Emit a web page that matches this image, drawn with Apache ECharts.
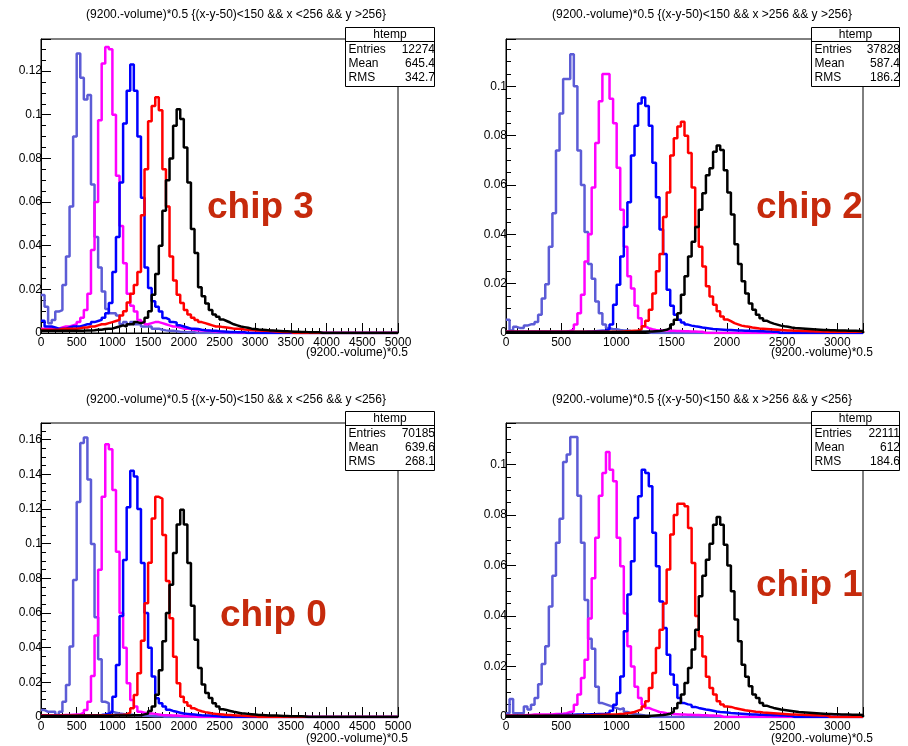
<!DOCTYPE html>
<html><head><meta charset="utf-8">
<script src="https://cdn.jsdelivr.net/npm/echarts@6/dist/echarts.min.js"></script>
<style>html,body{margin:0;padding:0;background:#fff}#c{width:908px;height:746px}</style>
</head><body><div id="c"></div>
<script>
// ---------- DATA (normalised bin contents, 100 bins per histogram) ----------
const BINS = 100;
const seriesNames = ['lavender', 'magenta', 'blue', 'red', 'black'];

// chip 3 (top-left), x range 0..5000
const c3Lav = [0.0174,0.012,0.0045,0.006,0.0098,0.0105,0.022,0.035,0.058,0.090,
 0.128,0.117,0.107,0.109,0.068,0.044,0.030,0.019,0.011,0.009,
 0.009,0.008,0.004,0.005,0.004,0.005,0.004,0.004,0.003,0.003,
 0.003,0.002,0.002,0.0015,0.0012,0.001,0.001,0.0008,0.0006,0.0005,
 0.0004,0.0004,0.0003];
const c3Mag = [0.002,0.002,0.0025,0.002,0.002,0.0025,0.003,0.003,0.0035,0.004,
 0.005,0.007,0.0105,0.018,0.038,0.060,0.0975,0.1235,0.131,0.130,
 0.100,0.072,0.049,0.032,0.018,0.0125,0.0098,0.006,0.005,0.004,
 0.0045,0.005,0.005,0.0045,0.004,0.0035,0.003,0.003,0.0025,0.002,
 0.002,0.0018,0.0015,0.0013,0.0012,0.001,0.001,0.0008,0.0007,0.0006,
 0.0005,0.0005,0.0004,0.0004,0.0003];
const c3Blu = [0.0056,0.003,0.003,0.0025,0.002,0.002,0.002,0.0025,0.003,0.003,
 0.003,0.0035,0.004,0.004,0.005,0.0055,0.006,0.007,0.009,0.0137,
 0.028,0.044,0.069,0.096,0.111,0.123,0.111,0.090,0.062,0.030,
 0.0206,0.0145,0.012,0.0099,0.0069,0.0061,0.005,0.0048,0.0035,0.003,
 0.0025,0.002,0.002,0.0018,0.0015,0.0013,0.0012,0.001,0.001,0.0008,
 0.0007,0.0006,0.0005,0.0005,0.0004,0.0004,0.0003];
const c3Red = [0.0015,0.0015,0.0015,0.0015,0.0015,0.0018,0.002,0.002,0.002,0.002,
 0.0022,0.0025,0.0025,0.003,0.003,0.0035,0.004,0.004,0.0045,0.005,
 0.0055,0.006,0.008,0.010,0.014,0.018,0.022,0.028,0.054,0.075,
 0.097,0.104,0.108,0.102,0.075,0.058,0.035,0.024,0.0175,0.0137,
 0.0105,0.0085,0.007,0.006,0.005,0.0045,0.004,0.0035,0.003,0.003,
 0.0027,0.0025,0.0023,0.002,0.002,0.0018,0.0016,0.0015,0.0014,0.0012,
 0.0011,0.001,0.001,0.0009,0.0008,0.0007,0.0006,0.0005,0.0005,0.0004];
const c3Blk = [0.001,0.001,0.001,0.001,0.001,0.001,0.001,0.001,0.001,0.001,
 0.001,0.001,0.0012,0.0012,0.0013,0.0015,0.0015,0.0018,0.002,0.002,
 0.0025,0.003,0.0035,0.003,0.004,0.004,0.005,0.0045,0.005,0.007,
 0.010,0.0175,0.027,0.040,0.056,0.070,0.080,0.095,0.1025,0.098,
 0.085,0.069,0.0476,0.0366,0.021,0.0168,0.0135,0.0105,0.0085,0.0075,
 0.0062,0.0055,0.0048,0.004,0.0035,0.003,0.0027,0.0024,0.002,0.0018,
 0.0016,0.0015,0.0014,0.0012,0.0011,0.001,0.0009,0.0008,0.0008,0.0007,
 0.0006,0.0006,0.0005,0.0005,0.0004,0.0004,0.0003,0.0003];

// chip 2 (top-right), x range 0..3233
const c2Lav = [0.0054,0.001,0.0025,0.002,0.002,0.003,0.0035,0.0035,0.0045,0.0074,
 0.014,0.0198,0.035,0.0486,0.074,0.089,0.103,0.103,0.113,0.100,
 0.074,0.060,0.041,0.028,0.022,0.0128,0.008,0.0034,0.002,0.0015,
 0.0015,0.0012,0.001,0.001,0.0008,0.0007,0.0006,0.0005,0.0005,0.0004];
const c2Mag = [0.0005,0.0005,0.0005,0.0005,0.0005,0.0005,0.0005,0.0005,0.0005,0.0005,
 0.0005,0.0005,0.0005,0.0005,0.0005,0.0005,0.0006,0.0008,0.0015,0.0034,
 0.008,0.0155,0.029,0.040,0.059,0.077,0.094,0.105,0.105,0.095,
 0.085,0.067,0.050,0.035,0.023,0.018,0.011,0.006,0.0027,0.002,
 0.0015,0.0012,0.001,0.001,0.001,0.0009,0.0009,0.0008,0.0008,0.0007,
 0.0007,0.0006,0.0006,0.0005,0.0005];
const c2Blu = [0.0005,0.0005,0.0005,0.0005,0.0005,0.0005,0.0005,0.0005,0.0005,0.0005,
 0.0005,0.0005,0.0005,0.0005,0.0005,0.0005,0.0005,0.0005,0.0005,0.0005,
 0.0005,0.0005,0.0006,0.0006,0.0007,0.0008,0.0009,0.001,0.0015,0.0034,
 0.0115,0.0196,0.031,0.043,0.053,0.072,0.084,0.093,0.0955,0.092,
 0.084,0.069,0.055,0.042,0.032,0.0175,0.011,0.0074,0.0054,0.0043,
 0.0034,0.003,0.0027,0.0025,0.0022,0.002,0.0018,0.0016,0.0015,0.0014,
 0.0013,0.0012,0.0012,0.0011,0.001,0.001,0.0009,0.0009,0.0008,0.0008,
 0.0007,0.0007,0.0006,0.0006,0.0005,0.0005];
const c2Red = [0.0005,0.0005,0.0005,0.0005,0.0005,0.0005,0.0005,0.0005,0.0005,0.0005,
 0.0005,0.0005,0.0005,0.0005,0.0005,0.0005,0.0005,0.0005,0.0005,0.0005,
 0.0005,0.0005,0.0005,0.0005,0.0005,0.0005,0.0005,0.0005,0.0005,0.0005,
 0.0005,0.0005,0.0006,0.0007,0.0008,0.0009,0.001,0.0015,0.0027,0.005,
 0.0094,0.016,0.025,0.032,0.047,0.057,0.072,0.079,0.0837,0.0857,
 0.080,0.073,0.059,0.043,0.035,0.027,0.019,0.0148,0.0115,0.0088,
 0.0067,0.0055,0.0048,0.004,0.0035,0.003,0.0027,0.0025,0.0022,0.002,
 0.0018,0.0017,0.0016,0.0015,0.0014,0.0013,0.0012,0.0011,0.001,0.001,
 0.0009,0.0009,0.0008,0.0008,0.0007,0.0007,0.0006,0.0006,0.0006,0.0005,
 0.0005,0.0005,0.0005,0.0005,0.0005,0.0005,0.0005,0.0005,0.0005,0.0005];
const c2Blk = [0.0004,0.0004,0.0004,0.0004,0.0004,0.0004,0.0004,0.0004,0.0004,0.0004,
 0.0004,0.0004,0.0004,0.0004,0.0004,0.0004,0.0004,0.0004,0.0004,0.0004,
 0.0004,0.0004,0.0004,0.0004,0.0004,0.0004,0.0004,0.0004,0.0004,0.0004,
 0.0004,0.0004,0.0004,0.0004,0.0004,0.0004,0.0005,0.0005,0.0005,0.0006,
 0.0006,0.0007,0.0008,0.001,0.0013,0.002,0.0034,0.0054,0.008,0.0155,
 0.023,0.031,0.037,0.043,0.050,0.0567,0.064,0.0668,0.0735,0.076,
 0.0742,0.066,0.057,0.048,0.036,0.028,0.021,0.016,0.012,0.0094,
 0.0074,0.006,0.005,0.0043,0.0038,0.0034,0.003,0.0027,0.0025,0.0022,
 0.002,0.0019,0.0018,0.0017,0.0016,0.0015,0.0014,0.0013,0.0012,0.0012,
 0.0011,0.0011,0.001,0.001,0.001,0.0009,0.0009,0.0009,0.0008,0.0008];

// chip 0 (bottom-left), x range 0..5000
const c0Lav = [0.004,0.003,0.003,0.003,0.0012,0.003,0.0088,0.0185,0.0406,0.079,
 0.124,0.158,0.1613,0.137,0.0998,0.0575,0.0333,0.0088,0.008,0.003,
 0.0025,0.002,0.0018,0.0015,0.0015,0.0012,0.001,0.001,0.0008,0.0007,
 0.0006,0.0005,0.0005,0.0004];
const c0Mag = [0.001,0.001,0.001,0.001,0.001,0.001,0.0012,0.0012,0.0013,0.0014,
 0.0015,0.0025,0.004,0.0088,0.0237,0.047,0.085,0.127,0.1573,0.1544,
 0.131,0.0954,0.060,0.040,0.0194,0.0098,0.006,0.003,0.0025,0.002,
 0.002,0.0018,0.0015,0.0012,0.001,0.001,0.0009,0.0008,0.0007,0.0006,
 0.0005,0.0005,0.0004];
const c0Blu = [0.0008,0.0008,0.0008,0.0008,0.0008,0.0008,0.0008,0.0008,0.0008,0.0008,
 0.0008,0.0008,0.0009,0.001,0.001,0.001,0.0012,0.0015,0.002,0.003,
 0.0117,0.030,0.0583,0.0906,0.121,0.142,0.1387,0.120,0.0888,0.060,
 0.040,0.0233,0.0108,0.0079,0.006,0.0042,0.0035,0.003,0.0025,0.002,
 0.0018,0.0016,0.0014,0.0012,0.001,0.0009,0.0008,0.0007,0.0006,0.0005];
const c0Red = [0.0008,0.0008,0.0008,0.0008,0.0008,0.0008,0.0008,0.0008,0.0008,0.0008,
 0.0008,0.0008,0.0008,0.0009,0.0009,0.0009,0.001,0.001,0.001,0.001,
 0.001,0.0012,0.0013,0.0015,0.0025,0.005,0.0127,0.0252,0.044,0.0656,
 0.089,0.1145,0.127,0.126,0.105,0.0784,0.057,0.0348,0.0194,0.0117,
 0.0085,0.0065,0.005,0.004,0.0033,0.0028,0.0024,0.002,0.0018,0.0016,
 0.0014,0.0012,0.0011,0.001,0.0009,0.0008,0.0007,0.0006,0.0005,0.0005];
const c0Blk = [0.0006,0.0006,0.0006,0.0006,0.0006,0.0006,0.0006,0.0006,0.0006,0.0006,
 0.0007,0.0007,0.0007,0.0007,0.0007,0.0007,0.0007,0.0007,0.0007,0.0007,
 0.0008,0.0008,0.0008,0.0009,0.0009,0.001,0.001,0.001,0.0015,0.002,
 0.0035,0.006,0.0129,0.027,0.0437,0.060,0.0763,0.0946,0.111,0.1196,
 0.111,0.0888,0.0642,0.0446,0.0283,0.0187,0.0138,0.011,0.008,0.006,
 0.0045,0.004,0.0035,0.003,0.0026,0.0022,0.002,0.0018,0.0016,0.0014,
 0.0012,0.0011,0.001,0.0009,0.0008,0.0008,0.0007,0.0006,0.0006,0.0005,
 0.0005,0.0004,0.0004,0.0003];

// chip 1 (bottom-right), x range 0..3233
const c1Lav = [0.0015,0.0071,0.0015,0.0015,0.0015,0.0042,0.003,0.0049,0.0075,0.013,
 0.021,0.028,0.0438,0.056,0.069,0.0786,0.101,0.104,0.111,0.111,
 0.0877,0.069,0.0464,0.031,0.027,0.012,0.0055,0.005,0.0045,0.004,
 0.0035,0.003,0.0035,0.002,0.0015,0.0012,0.001,0.0008,0.0006,0.0005];
const c1Mag = [0.0005,0.0005,0.0005,0.0005,0.0005,0.0008,0.0008,0.001,0.001,0.001,
 0.001,0.001,0.001,0.0012,0.0012,0.0013,0.0015,0.002,0.0022,0.0049,
 0.0089,0.0155,0.0227,0.039,0.055,0.071,0.0877,0.0967,0.105,0.098,
 0.0934,0.071,0.0597,0.041,0.028,0.020,0.012,0.0075,0.0049,0.0036,
 0.003,0.0025,0.002,0.0018,0.0015,0.0013,0.0012,0.0011,0.001,0.001,
 0.0009,0.0009,0.0008,0.0008,0.0007,0.0007,0.0006,0.0006,0.0005,0.0005];
const c1Blu = [0.0005,0.0005,0.0005,0.0005,0.0005,0.0005,0.0005,0.0005,0.0005,0.0005,
 0.0006,0.0006,0.0007,0.0007,0.0008,0.0008,0.0008,0.0009,0.0009,0.001,
 0.001,0.001,0.001,0.0011,0.0011,0.0012,0.0012,0.0013,0.0015,0.0025,
 0.0049,0.0095,0.016,0.034,0.0485,0.0617,0.0789,0.0875,0.098,0.0967,
 0.0914,0.073,0.0597,0.0458,0.0353,0.0247,0.0168,0.0128,0.0075,0.0055,
 0.005,0.0048,0.004,0.0036,0.0033,0.003,0.0028,0.0025,0.0022,0.002,
 0.0019,0.0018,0.0016,0.0015,0.0014,0.0013,0.0012,0.0011,0.001,0.001,
 0.0009,0.0009,0.0008,0.0008,0.0007,0.0007,0.0006,0.0006,0.0005,0.0005];
const c1Red = [0.0005,0.0005,0.0005,0.0005,0.0005,0.0005,0.0005,0.0005,0.0005,0.0005,
 0.0005,0.0005,0.0005,0.0005,0.0005,0.0005,0.0005,0.0005,0.0005,0.0005,
 0.0006,0.0006,0.0007,0.0007,0.0008,0.0008,0.0009,0.0009,0.001,0.001,
 0.001,0.0012,0.0013,0.0015,0.0017,0.002,0.0025,0.003,0.0042,0.0062,
 0.0115,0.0174,0.0273,0.0346,0.045,0.0584,0.0723,0.080,0.0845,0.0845,
 0.0835,0.0749,0.061,0.040,0.032,0.024,0.0159,0.0115,0.0089,0.0062,
 0.005,0.0042,0.004,0.0036,0.0033,0.003,0.0027,0.0025,0.0023,0.0021,
 0.002,0.0018,0.0017,0.0016,0.0015,0.0014,0.0013,0.0012,0.0011,0.001,
 0.001,0.0009,0.0009,0.0008,0.0008,0.0007,0.0007,0.0006,0.0006,0.0006];
const c1Blk = [0.0004,0.0004,0.0004,0.0004,0.0004,0.0004,0.0004,0.0004,0.0004,0.0004,
 0.0004,0.0004,0.0004,0.0004,0.0004,0.0004,0.0004,0.0004,0.0004,0.0004,
 0.0004,0.0004,0.0004,0.0004,0.0004,0.0004,0.0004,0.0004,0.0004,0.0004,
 0.0004,0.0004,0.0004,0.0004,0.0004,0.0004,0.0004,0.0004,0.0004,0.0004,
 0.0005,0.0006,0.0007,0.0008,0.001,0.0013,0.002,0.0035,0.0055,0.0089,
 0.0135,0.0194,0.0267,0.0346,0.0478,0.056,0.0623,0.0687,0.0762,0.0793,
 0.0762,0.0683,0.060,0.0498,0.0386,0.030,0.0207,0.0159,0.0122,0.0089,
 0.0075,0.0055,0.0045,0.004,0.0036,0.0033,0.003,0.0028,0.0026,0.0024,
 0.0022,0.002,0.0019,0.0018,0.0017,0.0016,0.0015,0.0014,0.0013,0.0012,
 0.0012,0.0011,0.0011,0.001,0.001,0.001,0.0009,0.0009,0.0009,0.0008];

// texts
const titles = [
 '(9200.-volume)*0.5 {(x-y-50)<150 && x <256 && y >256}',
 '(9200.-volume)*0.5 {(x-y-50)<150 && x >256 && y >256}',
 '(9200.-volume)*0.5 {(x-y-50)<150 && x <256 && y <256}',
 '(9200.-volume)*0.5 {(x-y-50)<150 && x >256 && y <256}'
];
const chipLabels = ['chip 3', 'chip 2', 'chip 0', 'chip 1'];
const statNames = ['Entries', 'Mean', 'RMS'];
const statValues = [
 ['12274', '645.4', '342.7'],
 ['37828', '587.4', '186.2'],
 ['70185', '639.6', '268.1'],
 ['22111', '612', '184.6']
];
const xAxisTitle = '(9200.-volume)*0.5';
const xMaxes = [5000, 3233, 5000, 3233];
const yMaxes = [0.1347, 0.1192, 0.1696, 0.1165];
const panelData = [
 [c3Lav, c3Mag, c3Blu, c3Red, c3Blk],
 [c2Lav, c2Mag, c2Blu, c2Red, c2Blk],
 [c0Lav, c0Mag, c0Blu, c0Red, c0Blk],
 [c1Lav, c1Mag, c1Blu, c1Red, c1Blk]
];

// ---------- LAYOUT / STYLE ----------
const FONT = '"Liberation Sans", Arial, Helvetica, sans-serif';
const colors = ['#5c5cd6', '#ff00ff', '#0000ff', '#ff0000', '#000000'];
const chipColor = '#c62a0c';
const layout = [
 {left: 41, top: 39, titleX: 236, titleY: 15, boxX: 345, boxY: 27, boxW: 89, nameX: 408, nameY: 353, chipX: 207, chipY: 208},
 {left: 506, top: 39, titleX: 702, titleY: 15, boxX: 811, boxY: 27, boxW: 88, nameX: 873, nameY: 353, chipX: 756, chipY: 208},
 {left: 41, top: 423, titleX: 236, titleY: 400, boxX: 345, boxY: 411, boxW: 89, nameX: 408, nameY: 739, chipX: 220, chipY: 616},
 {left: 506, top: 423, titleX: 702, titleY: 400, boxX: 811, boxY: 411, boxW: 88, nameX: 873, nameY: 739, chipX: 756, chipY: 586}
];
const GW = 357, GH = 294;

function stepData(arr, xMax) {
  const w = xMax / BINS;
  const pts = [];
  for (let i = 0; i < BINS; i++) pts.push([i * w, i < arr.length ? arr[i] : 0]);
  pts.push([BINS * w, 0]);
  return pts;
}
function xFmt(v) { return Math.abs(v / 500 - Math.round(v / 500)) < 1e-6 ? String(Math.round(v)) : ''; }
function yFmt(v) { const r = v / 0.02; return Math.abs(r - Math.round(r)) < 1e-6 ? String(+v.toFixed(4)) : ''; }

const grid = [], xAxis = [], yAxis = [], series = [], graphic = [];
layout.forEach((L, k) => {
  grid.push({left: L.left, top: L.top, width: GW, height: GH, show: true, borderColor: '#000', borderWidth: 1,
    backgroundColor: 'transparent', containLabel: false, outerBoundsMode: 'none'});
  const tickStyle = {color: '#000', width: 1};
  const lbl = {fontSize: 12, fontFamily: FONT, color: '#000'};
  xAxis.push({gridIndex: k, type: 'value', position: 'bottom', min: 0, max: xMaxes[k], interval: 500,
    axisLine: {show: true, onZero: false, lineStyle: {color: '#000', width: 1}},
    axisTick: {show: true, inside: true, length: 10, lineStyle: tickStyle},
    axisLabel: Object.assign({margin: 4, formatter: xFmt, showMaxLabel: true}, lbl),
    splitLine: {show: false}});
  xAxis.push({gridIndex: k, type: 'value', position: 'bottom', min: 0, max: xMaxes[k], interval: 100,
    axisLine: {show: false}, axisTick: {show: true, inside: true, length: 5, lineStyle: tickStyle},
    axisLabel: {show: false}, splitLine: {show: false}});
  yAxis.push({gridIndex: k, type: 'value', position: 'left', min: 0, max: yMaxes[k], interval: 0.02,
    axisLine: {show: true, onZero: false, lineStyle: {color: '#000', width: 1}},
    axisTick: {show: true, inside: true, length: 10, lineStyle: tickStyle},
    axisLabel: Object.assign({margin: -1, formatter: yFmt}, lbl),
    splitLine: {show: false}});
  yAxis.push({gridIndex: k, type: 'value', position: 'left', min: 0, max: yMaxes[k], interval: 0.005,
    axisLine: {show: false}, axisTick: {show: true, inside: true, length: 5, lineStyle: tickStyle},
    axisLabel: {show: false}, splitLine: {show: false}});
  panelData[k].forEach((arr, s) => {
    series.push({type: 'line', name: seriesNames[s], xAxisIndex: 2 * k, yAxisIndex: 2 * k, step: 'end',
      symbol: 'none', showSymbol: false, silent: true, clip: true,
      lineStyle: {color: colors[s], width: 2.5}, data: stepData(arr, xMaxes[k])});
  });
  graphic.push({type: 'text', z: 100, style: {text: titles[k], x: L.titleX, y: L.titleY, textAlign: 'center',
    textVerticalAlign: 'middle', font: '12px ' + FONT, fill: '#000'}});
  graphic.push({type: 'text', z: 100, style: {text: xAxisTitle, x: L.nameX, y: L.nameY, textAlign: 'right',
    textVerticalAlign: 'middle', font: '12px ' + FONT, fill: '#000'}});
  const bx = L.boxX + 0.5, by = L.boxY + 0.5;
  graphic.push({type: 'rect', z: 100, shape: {x: bx, y: by, width: L.boxW, height: 59},
    style: {fill: '#fff', stroke: '#000', lineWidth: 1}});
  graphic.push({type: 'line', z: 101, shape: {x1: bx, y1: by + 14, x2: bx + L.boxW, y2: by + 14},
    style: {stroke: '#000', lineWidth: 1}});
  graphic.push({type: 'text', z: 101, style: {text: 'htemp', x: bx + L.boxW / 2, y: by + 7, textAlign: 'center',
    textVerticalAlign: 'middle', font: '12px ' + FONT, fill: '#000'}});
  const rowY = [22, 36, 50.5];
  statNames.forEach((n, r) => {
    graphic.push({type: 'text', z: 101, style: {text: n, x: bx + 3, y: by + rowY[r], textAlign: 'left',
      textVerticalAlign: 'middle', font: '12px ' + FONT, fill: '#000'}});
    graphic.push({type: 'text', z: 101, style: {text: statValues[k][r], x: bx + L.boxW + 0.5, y: by + rowY[r], textAlign: 'right',
      textVerticalAlign: 'middle', font: '12px ' + FONT, fill: '#000'}});
  });
  graphic.push({type: 'text', z: 100, style: {text: chipLabels[k], x: L.chipX, y: L.chipY, textAlign: 'left',
    textVerticalAlign: 'middle', font: 'bold 37px ' + FONT, fill: chipColor}});
});

const chart = echarts.init(document.getElementById('c'), null, {renderer: 'canvas', width: 908, height: 746});
chart.setOption({animation: false, backgroundColor: '#fff', grid, xAxis, yAxis, series, graphic});
</script>
</body></html>
